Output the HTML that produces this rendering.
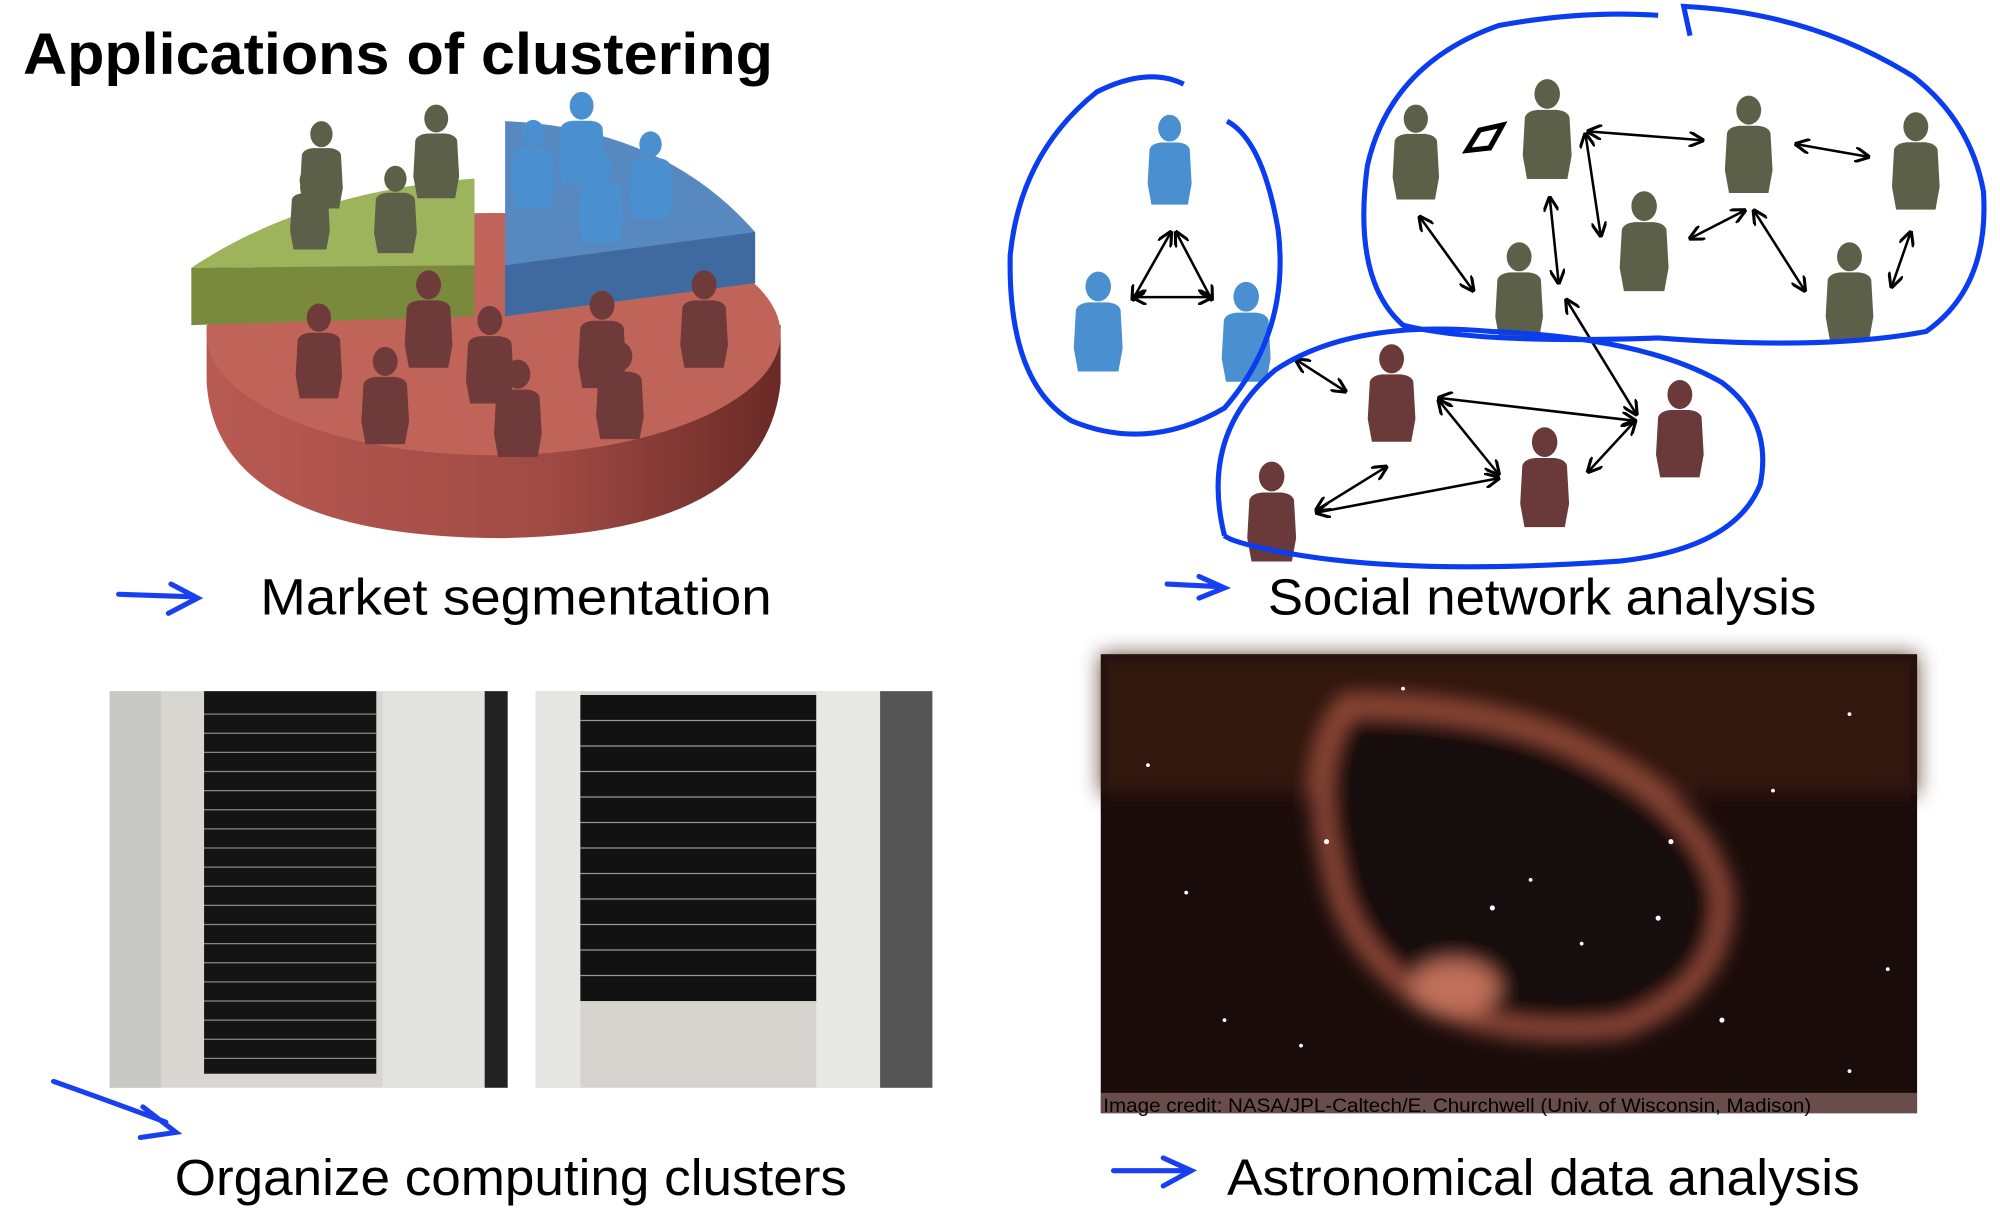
<!DOCTYPE html>
<html><head><meta charset="utf-8"><style>
html,body{margin:0;padding:0;background:#fff;}
svg{display:block;}
text{font-family:"Liberation Sans","DejaVu Sans",sans-serif;}
</style></head><body>
<svg width="2000" height="1214" viewBox="0 0 1568 952" preserveAspectRatio="none" xmlns="http://www.w3.org/2000/svg">
<defs>
<symbol id="p" viewBox="0 0 50 96" overflow="visible">
<ellipse cx="25" cy="14" rx="12" ry="14"/>
<path d="M4 36 Q6 30 16 29 L34 29 Q44 30 46 36 L48 72 L44 94 L6 94 L2 72 Z"/>
</symbol>
<linearGradient id="red" x1="0" x2="1"><stop offset="0" stop-color="#b85a52"/><stop offset="0.6" stop-color="#a04a44"/><stop offset="1" stop-color="#6a2a26"/></linearGradient>
<filter id="bl" x="-20%" y="-20%" width="140%" height="140%"><feGaussianBlur stdDeviation="8"/></filter>
<marker id="a" viewBox="0 0 10 10" refX="9" refY="5" markerWidth="6" markerHeight="6" orient="auto-start-reverse"><path d="M0 0 L10 5 L0 10" fill="none" stroke="#000" stroke-width="2"/></marker>
</defs>
<text x="18" y="58" font-size="46" font-weight="bold" textLength="588" lengthAdjust="spacingAndGlyphs">Applications of clustering</text>

<!-- pie -->
<path d="M162 255 L162 300 Q170 420 390 422 Q600 420 612 300 L612 255 Z" fill="url(#red)"/>
<ellipse cx="387" cy="262" rx="225" ry="95" fill="#c0645a"/>
<path d="M150 210 L150 255 L372 248 L372 208 Z" fill="#7a8a3c"/>
<path d="M150 210 Q240 150 372 140 L372 208 Z" fill="#9db35c"/>
<path d="M396 95 L396 248 L592 222 L592 182 Q520 100 396 95 Z" fill="#5888c0"/>
<path d="M396 248 L592 222 L592 182 L396 208 Z" fill="#3e6aa0"/>
<g fill="#5d6048"><use href="#p" x="228" y="95" width="48" height="70"/><use href="#p" x="318" y="82" width="48" height="75"/><use href="#p" x="222" y="132" width="42" height="65"/><use href="#p" x="288" y="130" width="44" height="70"/></g>
<g fill="#4a8fd0"><use href="#p" x="395" y="94" width="46" height="70"/><use href="#p" x="432" y="72" width="48" height="75"/><use href="#p" x="488" y="103" width="44" height="70"/><use href="#p" x="448" y="120" width="46" height="72"/></g>
<g fill="#6e3a3a"><use href="#p" x="226" y="238" width="48" height="76"/><use href="#p" x="312" y="212" width="48" height="78"/><use href="#p" x="278" y="272" width="48" height="78"/><use href="#p" x="360" y="240" width="48" height="78"/><use href="#p" x="382" y="282" width="48" height="78"/><use href="#p" x="448" y="228" width="48" height="78"/><use href="#p" x="462" y="268" width="48" height="78"/><use href="#p" x="528" y="212" width="48" height="78"/></g>

<path d="M93 466 L152 468 M134 458 L155 469 L132 481" fill="none" stroke="#1840f0" stroke-width="4" stroke-linecap="round"/>
<text x="204" y="482" font-size="40" textLength="401" lengthAdjust="spacingAndGlyphs">Market segmentation</text>

<!-- social -->
<g fill="#4a8fd0"><use href="#p" x="893" y="90" width="48" height="72"/><use href="#p" x="837" y="213" width="48" height="80"/><use href="#p" x="953" y="221" width="48" height="80"/></g>
<g fill="#5d6048"><use href="#p" x="1086" y="82" width="48" height="76"/><use href="#p" x="1188" y="62" width="50" height="80"/><use href="#p" x="1346" y="75" width="50" height="78"/><use href="#p" x="1477" y="88" width="50" height="78"/><use href="#p" x="1264" y="150" width="50" height="80"/><use href="#p" x="1166" y="190" width="50" height="78"/><use href="#p" x="1425" y="190" width="50" height="78"/></g>
<g fill="#6a3a3a"><use href="#p" x="1066" y="270" width="50" height="78"/><use href="#p" x="1292" y="298" width="50" height="78"/><use href="#p" x="1186" y="335" width="50" height="80"/><use href="#p" x="972" y="362" width="50" height="80"/></g>
<g stroke="#000" stroke-width="2" fill="none" marker-start="url(#a)" marker-end="url(#a)">
<path d="M918 182 L888 235"/><path d="M922 182 L950 235"/><path d="M888 233 L950 233"/>
<path d="M1245 103 L1335 110"/><path d="M1243 105 L1255 185"/><path d="M1408 113 L1465 123"/>
<path d="M1113 170 L1155 228"/><path d="M1215 155 L1222 222"/><path d="M1325 187 L1368 165"/><path d="M1375 165 L1415 228"/><path d="M1498 182 L1483 225"/>
<path d="M1228 235 L1283 325"/><path d="M1016 282 L1055 307"/><path d="M1128 312 L1282 330"/><path d="M1128 314 L1175 372"/><path d="M1245 370 L1282 330"/><path d="M1032 400 L1087 366"/><path d="M1032 402 L1175 375"/>
</g>
<path d="M1160 102 L1178 98 L1168 116 L1150 118 Z" fill="none" stroke="#000" stroke-width="4"/>
<g fill="none" stroke="#0a3cf0" stroke-width="4">
<path d="M928 66 Q900 52 860 72 Q800 120 792 200 Q790 300 840 330 Q900 355 960 320 Q1012 260 1002 180 Q990 110 962 95"/>
<path d="M1300 12 Q1240 8 1175 20 Q1090 50 1072 130 Q1060 220 1100 255 Q1160 270 1300 265 Q1430 275 1510 260 Q1560 225 1555 150 Q1545 95 1500 60 Q1420 10 1320 5 L1325 28"/>
<path d="M960 420 Q940 340 1000 290 Q1060 250 1170 260 Q1290 265 1350 300 Q1390 330 1380 380 Q1360 430 1270 440 Q1100 452 1000 432 Q965 425 960 420"/>
</g>
<path d="M915 458 L955 460 M940 452 L960 461 L940 469" fill="none" stroke="#1840f0" stroke-width="4" stroke-linecap="round"/>
<text x="994" y="482" font-size="40" textLength="430" lengthAdjust="spacingAndGlyphs">Social network analysis</text>

<!-- servers -->
<rect x="86" y="542" width="312" height="311" fill="#d8d6d0"/>
<rect x="86" y="542" width="40" height="311" fill="#c8c8c4"/>
<rect x="160" y="542" width="135" height="300" fill="#141414"/>
<g stroke="#888" stroke-width="1">
<path d="M160 560 H295 M160 575 H295 M160 590 H295 M160 605 H295 M160 620 H295 M160 635 H295 M160 650 H295 M160 665 H295 M160 680 H295 M160 695 H295 M160 710 H295 M160 725 H295 M160 740 H295 M160 755 H295 M160 770 H295 M160 785 H295 M160 800 H295 M160 815 H295 M160 830 H295"/></g>
<rect x="300" y="542" width="80" height="311" fill="#e2e2e0"/>
<rect x="380" y="542" width="18" height="311" fill="#222"/>
<rect x="420" y="542" width="311" height="311" fill="#d6d4ce"/>
<rect x="420" y="542" width="35" height="311" fill="#e6e6e4"/>
<rect x="455" y="545" width="185" height="240" fill="#121212"/>
<g stroke="#999" stroke-width="1"><path d="M455 565 H640 M455 585 H640 M455 605 H640 M455 625 H640 M455 645 H640 M455 665 H640 M455 685 H640 M455 705 H640 M455 725 H640 M455 745 H640 M455 765 H640"/></g>
<rect x="640" y="542" width="50" height="311" fill="#e8e8e6"/>
<rect x="690" y="542" width="41" height="311" fill="#555"/>
<path d="M42 848 Q90 865 130 880 M112 868 L138 888 L110 892" fill="none" stroke="#1840f0" stroke-width="4" stroke-linecap="round"/>
<text x="137" y="937" font-size="40" textLength="527" lengthAdjust="spacingAndGlyphs">Organize computing clusters</text>

<!-- nebula -->
<rect x="863" y="513" width="640" height="360" fill="#1a0c0a"/>
<g filter="url(#bl)">
<rect x="863" y="513" width="640" height="110" fill="#3a1812" opacity="0.8"/>
<path d="M1060 560 Q1180 560 1250 600 Q1330 640 1345 700 Q1350 770 1270 800 Q1180 810 1120 780 Q1060 740 1050 680 Q1030 600 1060 560 Z" fill="none" stroke="#b05a44" stroke-width="26" opacity="0.85"/>
<path d="M1060 560 Q1180 560 1250 600 Q1330 640 1345 700 Q1350 770 1270 800 Q1180 810 1120 780 Q1060 740 1050 680 Q1030 600 1060 560 Z" fill="#120808"/>
<ellipse cx="1140" cy="775" rx="35" ry="22" fill="#c0705a"/>
</g>
<g fill="#fff"><circle cx="900" cy="600" r="1.5"/><circle cx="1040" cy="660" r="2"/><circle cx="1170" cy="712" r="2"/><circle cx="1300" cy="720" r="2"/><circle cx="1350" cy="800" r="2"/><circle cx="1450" cy="560" r="1.5"/><circle cx="960" cy="800" r="1.5"/><circle cx="1480" cy="760" r="1.5"/><circle cx="1240" cy="740" r="1.5"/><circle cx="1100" cy="540" r="1.5"/><circle cx="1390" cy="620" r="1.5"/><circle cx="930" cy="700" r="1.5"/><circle cx="1450" cy="840" r="1.5"/><circle cx="1200" cy="690" r="1.5"/><circle cx="1310" cy="660" r="2"/><circle cx="1020" cy="820" r="1.5"/></g>
<rect x="863" y="857" width="640" height="16" fill="#8a6a66" opacity="0.7"/>
<text x="865" y="872" font-size="15" fill="#000" textLength="555" lengthAdjust="spacingAndGlyphs">Image credit: NASA/JPL-Caltech/E. Churchwell (Univ. of Wisconsin, Madison)</text>
<path d="M873 918 L930 918 M912 908 L934 918 L912 930" fill="none" stroke="#1840f0" stroke-width="4" stroke-linecap="round"/>
<text x="962" y="937" font-size="40" textLength="496" lengthAdjust="spacingAndGlyphs">Astronomical data analysis</text>
</svg>
</body></html>
